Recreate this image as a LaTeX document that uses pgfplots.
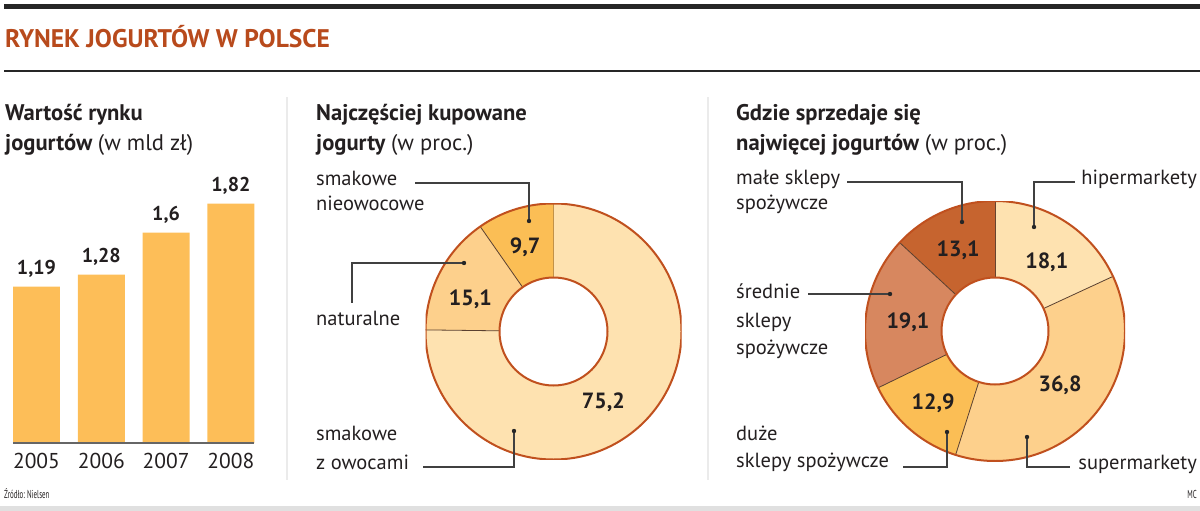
\documentclass[border=0pt]{standalone}
\usepackage{fontspec}
\setmainfont{PT Sans}
\newfontfamily\narrowfont{PT Sans}[FakeStretch=0.6]
\usepackage{pgfplots}
\pgfplotsset{compat=1.18}

\definecolor{titlered}{HTML}{B84A1C}
\definecolor{ink}{HTML}{231F20}
\definecolor{barorange}{HTML}{FDBE58}
\definecolor{ringline}{HTML}{C0501E}
\definecolor{seplin}{HTML}{5A4030}
\definecolor{pLight}{HTML}{FEE2B0}
\definecolor{pMid}{HTML}{FDD08C}
\definecolor{pOrange}{HTML}{FBBE55}
\definecolor{pRust}{HTML}{D7875F}
\definecolor{pBrown}{HTML}{C6642F}

% slice of a donut: #1 start (cumulated %), #2 value (%), #3 colour, #4 outer radius, #5 inner radius
\newcommand{\donutslice}[5]{%
  \fill[#3] ([shift={({90-3.6*(#1)}:#4)}]axis cs:0,0)
    arc[start angle={90-3.6*(#1)}, end angle={90-3.6*(#1+#2)}, radius=#4]
    -- ([shift={({90-3.6*(#1+#2)}:#5)}]axis cs:0,0)
    arc[start angle={90-3.6*(#1+#2)}, end angle={90-3.6*(#1)}, radius=#5] -- cycle;
  \draw[seplin, line width=0.8pt] ([shift={({90-3.6*(#1)}:#5)}]axis cs:0,0)
    -- ([shift={({90-3.6*(#1)}:#4)}]axis cs:0,0);
}

\begin{document}
\begin{tikzpicture}[x=1pt, y=-1pt, font=\fontsize{20.5}{24}\selectfont, text=ink]
\path (0,0) rectangle (1200,511);

% rules and title
\fill[black!85] (4,4) rectangle (1200,9);
\fill[black!85] (4,70) rectangle (1200,72);
\fill[black!12] (0,506) rectangle (1200,511);
\fill[black!8] (286,97) rectangle (288,480);
\fill[black!8] (707,97) rectangle (709,480);
\node[anchor=base west, inner sep=0, text=titlered, font=\fontsize{25.5}{26}\selectfont\bfseries]
  at (5,48) {RYNEK JOGURTÓW W POLSCE};

% panel titles
\begin{scope}[every node/.style={anchor=base west, inner sep=0, font=\fontsize{22.6}{24}\selectfont\bfseries}]
\node at (5,121) {Wartość rynku};
\node at (5,150) {jogurtów {\mdseries (w mld zł)}};
\node at (316,121) {Najczęściej kupowane};
\node at (316,150) {jogurty {\mdseries (w proc.)}};
\node at (736,121) {Gdzie sprzedaje się};
\node at (736,150) {najwięcej jogurtów {\mdseries (w proc.)}};
\end{scope}

% ---- bar chart: market value
\begin{axis}[
  at={(13pt,-443pt)}, anchor=south west,
  scale only axis, width=241.4pt, height=263pt,
  xmin=-0.3625, xmax=3.3625, ymin=0, ymax=2,
  axis on top,
  axis x line*=bottom, axis y line=none,
  x axis line style={draw=black!60, line width=2pt, -},
  xtick=data, xticklabels={2005,2006,2007,2008},
  major tick length=0pt,
  xticklabel style={font=\fontsize{21.5}{24}\selectfont, text=ink, yshift=-7pt},
  ybar, bar width=0.725,
  nodes near coords={\pgfmathprintnumber{\pgfplotspointmeta}},
  nodes near coords style={font=\fontsize{20}{24}\selectfont\bfseries, text=ink, anchor=base, yshift=12pt},
  /pgf/number format/.cd, use comma, fixed, precision=2, assume math mode=true,
]
\addplot[fill=barorange, draw=none] coordinates {(0,1.19) (1,1.28) (2,1.6) (3,1.82)};
\end{axis}

% ---- donut: most bought yoghurts
\begin{axis}[
  at={(553.5pt,-331.5pt)}, anchor=center, hide axis,
  scale only axis, width=256pt, height=256pt,
  xmin=-1, xmax=1, ymin=-1, ymax=1,
]
\addplot[draw=none] coordinates {(0,0)};
\donutslice{0}{75.2}{pLight}{128pt}{54pt}
\donutslice{75.2}{15.1}{pMid}{128pt}{54pt}
\donutslice{90.3}{9.7}{pOrange}{128pt}{54pt}
\draw[ringline, line width=2pt] (axis cs:0,0) circle[radius=128pt];
\draw[ringline, line width=2pt] (axis cs:0,0) circle[radius=54pt];
\begin{scope}[every node/.style={font=\fontsize{22}{24}\selectfont\bfseries}]
\node at ([shift={(-55:87pt)}]axis cs:0,0) {75,2};
\node at ([shift={(159:89pt)}]axis cs:0,0) {15,1};
\node at ([shift={(108.6:89pt)}]axis cs:0,0) {9,7};
\end{scope}
\end{axis}

% ---- donut: where yoghurts are sold
\begin{axis}[
  at={(995pt,-331pt)}, anchor=center, hide axis,
  scale only axis, width=260pt, height=260pt,
  xmin=-1, xmax=1, ymin=-1, ymax=1,
]
\addplot[draw=none] coordinates {(0,0)};
\donutslice{0}{18.1}{pLight}{130pt}{53.5pt}
\donutslice{18.1}{36.8}{pMid}{130pt}{53.5pt}
\donutslice{54.9}{12.9}{pOrange}{130pt}{53.5pt}
\donutslice{67.8}{19.1}{pRust}{130pt}{53.5pt}
\donutslice{86.9}{13.1}{pBrown}{130pt}{53.5pt}
\draw[ringline, line width=2pt] (axis cs:0,0) circle[radius=130pt];
\draw[ringline, line width=2pt] (axis cs:0,0) circle[radius=53.5pt];
\begin{scope}[every node/.style={font=\fontsize{22}{24}\selectfont\bfseries}]
\node at ([shift={(53:86pt)}]axis cs:0,0) {18,1};
\node at ([shift={(-39.7:84.5pt)}]axis cs:0,0) {36,8};
\node at ([shift={(229.3:95pt)}]axis cs:0,0) {12,9};
\node at ([shift={(174:87.5pt)}]axis cs:0,0) {19,1};
\node at ([shift={(114.5:89pt)}]axis cs:0,0) {13,1};
\end{scope}
\end{axis}

% callouts
\begin{scope}[draw=black!75, line width=1.1pt]
\draw (529,221) -- (529,183) -- (415,183);
\draw (464,263) -- (352,263) -- (352,303);
\draw (514,431) -- (514,467) -- (423,467);
\draw (962,222) -- (962,182) -- (847,182);
\draw (1034,227) -- (1034,182) -- (1075,182);
\draw (890,294) -- (808,294);
\draw (947,432) -- (947,467) -- (903,467);
\draw (1027,437) -- (1027,467) -- (1070,467);
\foreach \p in {(529,221),(464,263),(514,431),(962,222),(1034,227),(890,294),(947,432),(1027,437)}
  \fill[black!85] \p circle[radius=2.2pt];
\end{scope}

\begin{scope}[every node/.style={anchor=mid west, inner sep=0}]
\node at (316,183) {smakowe};
\node at (316,208) {nieowocowe};
\node at (316,323) {naturalne};
\node at (316,438) {smakowe};
\node at (316,467) {z owocami};
\node at (736,182) {małe sklepy};
\node at (736,207) {spożywcze};
\node at (736,296) {średnie};
\node at (736,325) {sklepy};
\node at (736,352) {spożywcze};
\node at (736,438) {duże};
\node at (736,465) {sklepy spożywcze};
\node[anchor=mid east] at (1197,182) {hipermarkety};
\node[anchor=mid east] at (1197,467) {supermarkety};
\end{scope}

\node[anchor=base west, inner sep=0, font=\narrowfont\fontsize{11.5}{12}\selectfont] at (4,498) {Źródło: Nielsen};
\node[anchor=base east, inner sep=0, font=\narrowfont\fontsize{11.5}{12}\selectfont] at (1197,498) {MC};
\end{tikzpicture}
\end{document}
